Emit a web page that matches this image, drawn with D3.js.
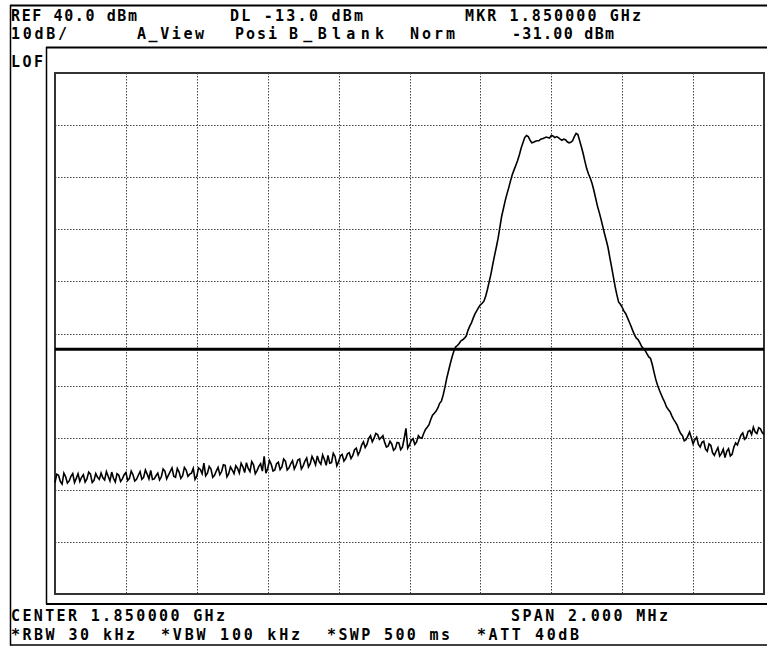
<!DOCTYPE html>
<html>
<head>
<meta charset="utf-8">
<script src="https://cdn.jsdelivr.net/npm/d3@7"></script>
<style>
  html, body { margin: 0; padding: 0; background: #fff; }
  svg text { font-family: "DejaVu Sans Mono", "Liberation Mono", monospace; font-size: 15px; font-weight: bold; fill: #000; }
</style>
</head>
<body>
<svg id="chart" width="767" height="646"></svg>
<script>
// sweep settings (kHz offset from center 1.850000 GHz)
var spanStartKHz = -1000;
var spanStopKHz = 1000;
var sweepStepKHz = 5;

// reference level / scale
var refLevelDbm = 40;
var dbPerDiv = 10;
var divisions = 10;
var displayLineDbm = -13;

// trace values, dBm, at every 10 kHz (0, 10, 20 ... kHz from start)
var traceDbm = [
  -38.6, -37.2, -38.9, -37.5, -38.3, -36.9, -37.8, -38.4, -37.1, -37.9,
  -37.0, -38.2, -37.6, -36.8, -38.1, -37.4, -36.6, -38.5, -37.2, -37.9,
  -36.7, -37.8, -37.1, -38.0, -36.5, -37.6, -37.0, -36.3, -37.9, -36.8,
  -37.5, -36.4, -37.2, -35.8, -37.6, -36.6, -37.3, -36.2, -37.0, -35.9,
  -37.4, -36.1, -34.9, -36.8, -36.0, -37.2, -35.7, -36.5, -35.3, -36.9,
  -36.2, -35.4, -36.8, -35.6, -34.8, -36.5, -35.2, -36.3, -35.0, -33.6,
  -35.9, -35.1, -36.2, -34.7, -35.6, -34.5, -35.8, -34.4, -35.3, -34.1,
  -35.4, -33.9, -35.0, -34.3, -33.5, -35.1, -34.2, -33.4, -34.8, -33.6,
  -34.6, -33.2, -34.0, -32.9, -33.4, -32.0, -32.6, -30.8, -31.3, -29.6,
  -30.1, -29.4, -30.0, -30.9, -31.6, -31.2, -32.1, -31.0, -31.8, -28.2,
  -31.4, -30.2, -30.8, -30.0, -29.2, -28.0, -26.5, -25.3, -24.3, -23.0,
  -20.3, -17.2, -14.5, -12.6, -11.9, -11.2, -10.5, -8.6, -7.0, -5.6,
  -4.5, -3.8, -1.5, 1.5, 5.0, 8.3, 12.5, 15.5, 18.0, 20.5,
  22.3, 24.3, 26.6, 28.0, 27.1, 26.7, 27.0, 27.3, 27.5, 27.6,
  28.0, 27.6, 27.6, 27.1, 27.2, 26.6, 27.0, 28.4, 27.0, 24.5,
  21.6, 19.8, 17.5, 14.5, 12.0, 9.2, 6.5, 2.8, -1.0, -4.0,
  -5.0, -6.2, -7.8, -9.5, -10.9, -11.8, -12.9, -13.9, -14.8, -17.5,
  -20.0, -21.7, -23.2, -24.6, -25.8, -27.0, -28.5, -29.6, -30.4, -28.9,
  -31.2, -29.9, -31.8, -30.7, -32.6, -31.5, -33.4, -31.9, -33.0, -33.8,
  -32.1, -33.2, -31.0, -30.4, -29.1, -30.0, -28.6, -28.0, -29.2, -28.3,
  -29.4
];

// readings taken in between (5, 15, 25 ... kHz from start)
var traceMidDbm = [
  -37.0, -38.4, -36.8, -38.7, -37.4, -38.6, -36.9, -37.6, -38.5, -36.6,
  -38.6, -36.9, -38.0, -37.7, -36.5, -38.3, -37.8, -36.9, -38.4, -37.1,
  -38.2, -36.4, -38.3, -37.2, -38.0, -36.2, -37.9, -38.0, -37.3, -38.1,
  -36.0, -37.9, -36.5, -37.4, -35.9, -37.8, -35.7, -37.4, -36.8, -38.0,
  -35.8, -36.9, -37.3, -35.5, -37.6, -36.4, -37.1, -35.2, -37.5, -35.6,
  -36.9, -35.9, -34.9, -36.7, -35.9, -34.6, -36.9, -35.5, -36.4, -36.8,
  -34.4, -36.4, -35.0, -36.1, -34.1, -36.2, -35.0, -36.0, -34.3, -36.0,
  -34.5, -35.6, -33.6, -35.2, -34.6, -33.3, -35.3, -34.9, -33.0, -35.4,
  -33.5, -34.5, -33.1, -34.0, -32.3, -33.3, -31.4, -31.9, -30.1, -30.8,
  -29.2, -30.3, -29.6, -31.8, -30.7, -32.4, -30.9, -32.3, -30.2, -32.0,
  -30.5, -31.3, -29.6, -30.1, -28.4, -27.5, -25.7, -24.9, -23.4, -21.8,
  -18.6, -15.8, -13.4, -12.3, -11.4, -10.9, -9.4, -7.9, -6.2, -5.0,
  -4.2, -2.8, 0.0, 3.3, 6.6, 10.4, 14.0, 16.8, 19.3, 21.4,
  23.2, 25.6, 27.6, 27.8, 26.6, 26.9, 27.0, 27.4, 27.7, 27.5,
  27.9, 27.8, 27.3, 27.3, 26.8, 26.7, 27.8, 28.2, 25.8, 23.0,
  20.6, 18.8, 16.0, 13.3, 10.6, 7.9, 4.6, 0.9, -2.6, -4.4,
  -5.7, -7.0, -8.6, -10.3, -11.2, -12.5, -13.3, -14.5, -16.0, -18.9,
  -20.9, -22.5, -24.1, -25.0, -26.5, -27.6, -29.2, -30.6, -29.7, -30.0,
  -30.4, -31.3, -30.9, -32.2, -31.2, -32.9, -32.6, -33.5, -32.2, -32.6,
  -33.5, -31.8, -31.4, -29.5, -30.3, -28.8, -29.4, -28.9, -28.1, -29.0
];

// annotation texts
var headerRow1 = ['REF 40.0 dBm', 'DL -13.0 dBm', 'MKR 1.850000 GHz'];
var headerRow2 = ['10dB/', 'A_View', 'Posi', 'B_Blank', 'Norm', '-31.00 dBm'];
var footerRow1 = ['CENTER 1.850000 GHz', 'SPAN 2.000 MHz'];
var footerRow2 = ['*RBW 30 kHz', '*VBW 100 kHz', '*SWP 500 ms', '*ATT 40dB'];

// full sweep: 10 kHz readings with the in-between readings slotted in
var sweep = d3.merge(traceDbm.map(function(v, i) {
  return i < traceMidDbm.length ? [v, traceMidDbm[i]] : [v];
}));

var svg = d3.select('#chart');

// plot area
var plot = {left: 55, top: 73, right: 764, bottom: 594};

var x = d3.scaleLinear().domain([spanStartKHz, spanStopKHz]).range([plot.left, plot.right]);
var y = d3.scaleLinear()
  .domain([refLevelDbm - dbPerDiv * divisions, refLevelDbm])
  .range([plot.bottom, plot.top]);

// outer frame of the screen
var frame = svg.append('g').attr('stroke', '#000').attr('fill', 'none');
frame.append('line').attr('x1', 10).attr('x2', 767).attr('y1', 5.5).attr('y2', 5.5).attr('stroke-width', 2);
frame.append('line').attr('x1', 10.5).attr('x2', 10.5).attr('y1', 5).attr('y2', 645.5).attr('stroke-width', 1.5);
frame.append('line').attr('x1', 46).attr('x2', 767).attr('y1', 47.5).attr('y2', 47.5).attr('stroke-width', 2);
frame.append('line').attr('x1', 46.5).attr('x2', 46.5).attr('y1', 47).attr('y2', 604).attr('stroke-width', 1.5);
frame.append('line').attr('x1', 46).attr('x2', 767).attr('y1', 604).attr('y2', 604).attr('stroke-width', 2);
frame.append('line').attr('x1', 10).attr('x2', 767).attr('y1', 645).attr('y2', 645).attr('stroke-width', 1.5);

// dotted graticule
var xGrid = d3.range(1, divisions).map(function(i) {
  return spanStartKHz + i * (spanStopKHz - spanStartKHz) / divisions;
});
var yGrid = d3.range(1, divisions).map(function(i) {
  return refLevelDbm - i * dbPerDiv;
});

var grid = svg.append('g')
  .attr('stroke', '#444')
  .attr('stroke-width', 1)
  .attr('stroke-dasharray', '1.5,1.5');

grid.selectAll('line.v')
  .data(xGrid)
  .enter()
  .append('line')
  .attr('class', 'v')
  .attr('x1', function(d) { return Math.round(x(d)) + 0.5; })
  .attr('x2', function(d) { return Math.round(x(d)) + 0.5; })
  .attr('y1', plot.top)
  .attr('y2', plot.bottom);

grid.selectAll('line.h')
  .data(yGrid)
  .enter()
  .append('line')
  .attr('class', 'h')
  .attr('x1', plot.left)
  .attr('x2', plot.right)
  .attr('y1', function(d) { return Math.round(y(d)) + 0.5; })
  .attr('y2', function(d) { return Math.round(y(d)) + 0.5; });

// graticule border
svg.append('rect')
  .attr('x', plot.left)
  .attr('y', plot.top)
  .attr('width', plot.right - plot.left)
  .attr('height', plot.bottom - plot.top)
  .attr('fill', 'none')
  .attr('stroke', '#333')
  .attr('stroke-width', 2);

// display line
svg.append('line')
  .attr('x1', plot.left)
  .attr('x2', plot.right)
  .attr('y1', y(displayLineDbm))
  .attr('y2', y(displayLineDbm))
  .attr('stroke', '#000')
  .attr('stroke-width', 3);

// trace
var line = d3.line()
  .x(function(d, i) { return x(spanStartKHz + i * sweepStepKHz); })
  .y(function(d) { return y(d); });

svg.append('path')
  .datum(sweep)
  .attr('d', line)
  .attr('fill', 'none')
  .attr('stroke', '#000')
  .attr('stroke-width', 1.6)
  .attr('stroke-linejoin', 'miter');

// screen annotations
function putText(t, tx, ty, w) {
  svg.append('text')
    .attr('x', tx)
    .attr('y', ty)
    .attr('textLength', w)
    .attr('lengthAdjust', 'spacing')
    .text(t);
}

putText(headerRow1[0], 11, 21, 126);
putText(headerRow1[1], 230, 21, 133);
putText(headerRow1[2], 465, 21, 176);

putText(headerRow2[0], 11, 39, 56);
putText(headerRow2[1], 137, 39, 67);
putText(headerRow2[2], 235, 39, 42);
putText(headerRow2[3], 289, 39, 95);
putText(headerRow2[4], 410, 39, 45);
putText(headerRow2[5], 512, 39, 102);

putText('LOF', 11, 67, 32);

putText(footerRow1[0], 11, 621, 214);
putText(footerRow1[1], 511, 621, 157);

putText(footerRow2[0], 11, 640, 124);
putText(footerRow2[1], 161, 640, 139);
putText(footerRow2[2], 327, 640, 123);
putText(footerRow2[3], 477, 640, 102);
</script>
</body>
</html>
